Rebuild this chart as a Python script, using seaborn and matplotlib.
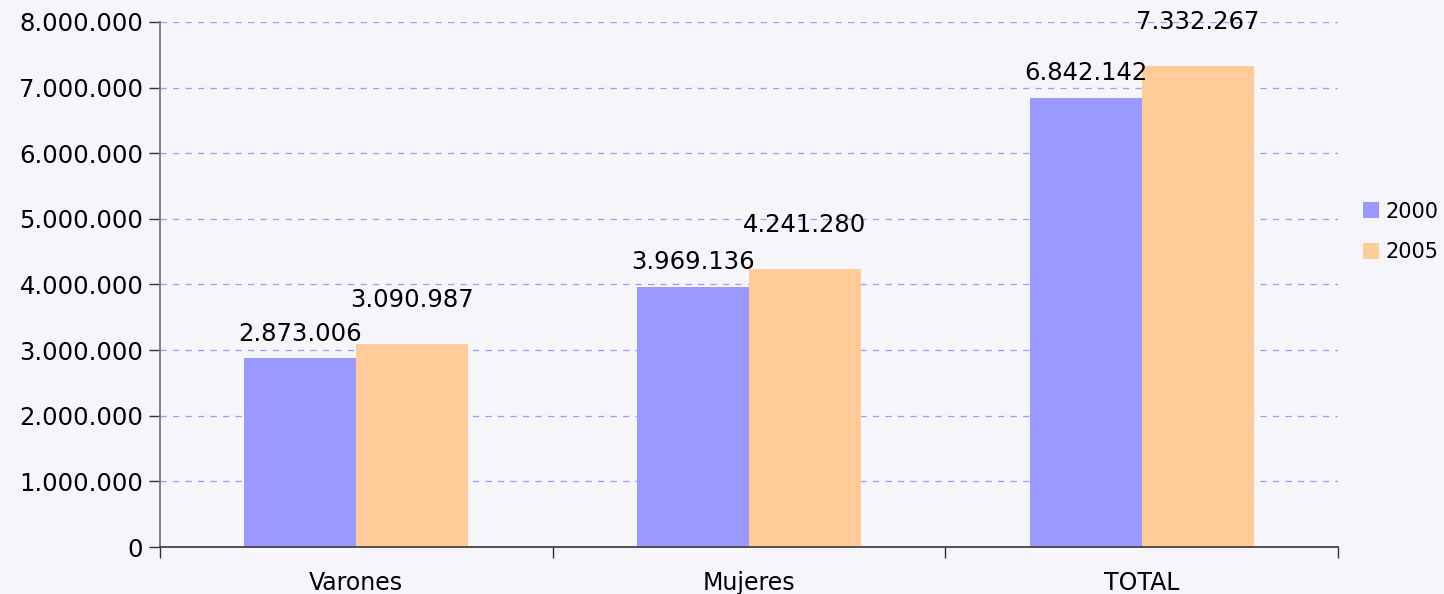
import pandas as pd
import numpy as np
import seaborn as sns
import matplotlib.pyplot as plt
from matplotlib.ticker import FuncFormatter, FixedLocator

# Data
categories = ["Varones", "Mujeres", "TOTAL"]
values_2000 = [2873006, 3969136, 6842142]
values_2005 = [3090987, 4241280, 7332267]
years = ["2000", "2005"]

df = pd.DataFrame({
    "cat": categories * 2,
    "year": [years[0]] * 3 + [years[1]] * 3,
    "value": values_2000 + values_2005,
})

bg = "#F6F5FA"
colors = {"2000": "#9999FF", "2005": "#FFCC99"}

sns.set_style("white")
plt.rcParams["font.family"] = ["DejaVu Sans"]
plt.rcParams["text.color"] = "black"
plt.rcParams["xtick.color"] = "#333333"
plt.rcParams["ytick.color"] = "#333333"
plt.rcParams["xtick.labelcolor"] = "black"
plt.rcParams["ytick.labelcolor"] = "black"

fig = plt.figure(figsize=(14.44, 5.94), dpi=100, facecolor=bg)
ax = fig.add_axes([0.1108, 0.0791, 0.8158, 0.8839])
ax.set_facecolor(bg)

sns.barplot(data=df, x="cat", y="value", hue="year", palette=colors,
            width=0.57, saturation=1, linewidth=0, ax=ax, legend=True)

def fmt(v):
    return f"{int(round(v)):,}".replace(",", ".")

ax.yaxis.set_major_formatter(FuncFormatter(lambda v, p: fmt(v)))
ax.set_ylim(0, 8000000)
ax.set_yticks(np.arange(0, 8000001, 1000000))
ax.set_xlim(-0.5, 2.5)
ax.grid(axis="y", color="#9999FF", linestyle=(0, (5, 5)), linewidth=0.9)
ax.set_axisbelow(True)

# value labels
offsets = {"2000": 9, "2005": 23}
for cont, yr in zip(ax.containers, years):
    for bar in cont:
        h = bar.get_height()
        ax.annotate(fmt(h), (bar.get_x() + bar.get_width() / 2, h),
                    xytext=(0, offsets[yr]), textcoords="offset points",
                    ha="center", va="bottom", fontsize=17.5, color="black",
                    clip_on=False)

ax.set_xlabel("")
ax.set_ylabel("")
for s in ["top", "right"]:
    ax.spines[s].set_visible(False)
ax.spines["left"].set_color("#777777")
ax.spines["bottom"].set_color("#444444")
ax.spines["left"].set_linewidth(1.3)
ax.spines["bottom"].set_linewidth(1.3)

ax.tick_params(axis="y", left=True, labelsize=17.5, length=8, width=1, pad=4)
ax.tick_params(axis="x", which="major", bottom=False, labelsize=17, length=0, pad=17)
ax.xaxis.set_minor_locator(FixedLocator([-0.5, 0.5, 1.5, 2.5]))
ax.tick_params(axis="x", which="minor", bottom=True, length=8, width=1)

leg = ax.legend(loc="center left", bbox_to_anchor=(1.005, 0.6), frameon=False,
                fontsize=15, handlelength=0.8, handleheight=0.8,
                handletextpad=0.3, labelspacing=1.0, title=None)

fig.savefig("out.png", dpi=100, facecolor=bg)
